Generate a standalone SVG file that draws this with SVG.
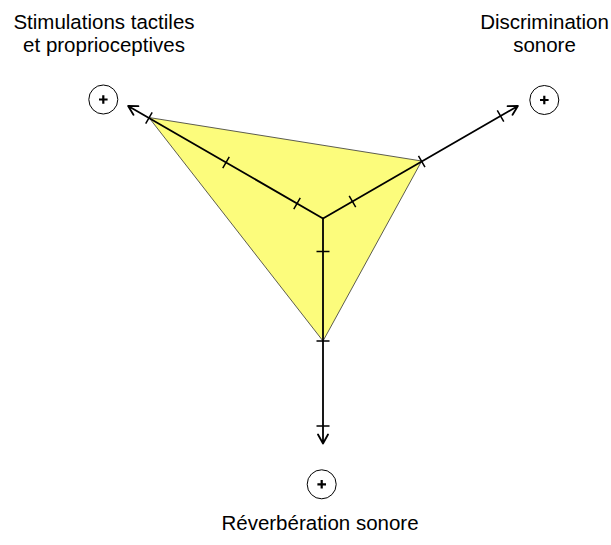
<svg xmlns="http://www.w3.org/2000/svg" width="611" height="545" viewBox="0 0 611 545">
<style>
.lbl{font-family:"Liberation Sans",Arial,Helvetica,sans-serif;font-size:20.5px;fill:#000;text-anchor:middle}
.ax{stroke:#000;stroke-width:1.8;fill:none;stroke-linecap:round;stroke-linejoin:round}
.tk{stroke:#000;stroke-width:1.5;fill:none}
.circ{fill:#fff;stroke:#000;stroke-width:1}
.plus{stroke:#000;stroke-width:2.2;fill:none}
</style>
<rect width="611" height="545" fill="#fff"/>
<polygon id="area" points="148.9,117.5 421.7,161 323,341" fill="#fcfc7c" stroke="#333" stroke-width="0.8" stroke-linejoin="round"/>
<g id="connectors">
  <g id="axis-ul" transform="translate(323,218.5) rotate(210)">
    <path class="ax" d="M0,0 L225,0 M216,-5 L225,0 L216,5"/>
    <path class="tk" d="M30,-6.5 V6.5 M112,-6.5 V6.5 M201,-6.5 V6.5"/>
  </g>
  <g id="axis-ur" transform="translate(323,218.5) rotate(-30)">
    <path class="ax" d="M0,0 L225,0 M216,-5 L225,0 L216,5"/>
    <path class="tk" d="M34,-6.5 V6.5 M114,-6.5 V6.5 M205,-6.5 V6.5"/>
  </g>
  <g id="axis-d" transform="translate(323,218.5) rotate(90)">
    <path class="ax" d="M0,0 L225,0 M216,-5 L225,0 L216,5"/>
    <path class="tk" d="M33,-6.5 V6.5 M122.5,-6.5 V6.5 M207.5,-6.5 V6.5"/>
  </g>
</g>
<g id="node-tactile">
  <text class="lbl" x="104" y="29">Stimulations tactiles</text>
  <text class="lbl" x="104" y="52">et proprioceptives</text>
  <circle class="circ" cx="103.3" cy="99.5" r="14.5"/>
  <path class="plus" d="M99,99.5 H107.6 M103.3,95.2 V103.8"/>
</g>
<g id="node-discrimination">
  <text class="lbl" x="544.5" y="29">Discrimination</text>
  <text class="lbl" x="544.5" y="52">sonore</text>
  <circle class="circ" cx="544.3" cy="100" r="14.5"/>
  <path class="plus" d="M540,100 H548.6 M544.3,95.7 V104.3"/>
</g>
<g id="node-reverberation">
  <circle class="circ" cx="321.7" cy="484.3" r="14.5"/>
  <path class="plus" d="M317.4,484.3 H326 M321.7,480 V488.6"/>
  <text class="lbl" x="320" y="530">Réverbération sonore</text>
</g>
</svg>
